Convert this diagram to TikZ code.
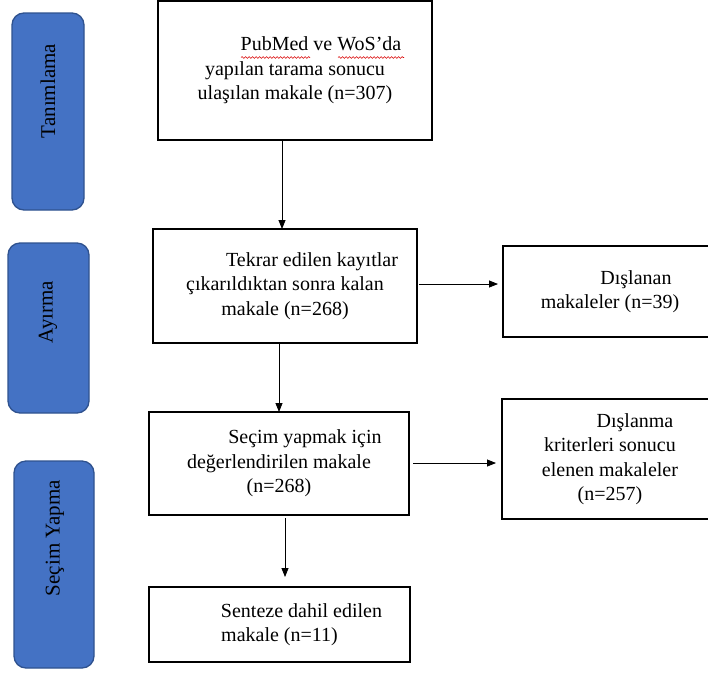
\documentclass[tikz,border=0pt]{standalone}
\usepackage{fontspec}
\setmainfont{Liberation Serif}
\usetikzlibrary{arrows.meta,decorations.pathmorphing}
\definecolor{sideblue}{HTML}{4472C4}
\definecolor{sideedge}{HTML}{2F528F}
\begin{document}
\begin{tikzpicture}[x=1pt,y=-1pt,
  mainbox/.style={draw=black,line width=1.4pt,rectangle,inner sep=0pt,outer sep=0pt,align=center,font=\fontsize{20}{24.5}\selectfont},
  sidebox/.style={draw=sideedge,fill=sideblue,line width=1.3pt,rounded corners=12pt,inner sep=0pt,outer sep=0pt},
  sidelabel/.style={rotate=90,font=\fontsize{21}{25}\selectfont,text=black,inner sep=0pt},
  arr/.style={-{Triangle[length=9pt,width=7pt]},line width=0.8pt},
  spell/.style={draw=red!85!black,line width=0.6pt,decorate,decoration={snake,amplitude=0.9pt,segment length=3.5pt}}]
\clip (0,0) rectangle (708,672);
\fill[white] (0,0) rectangle (708,672);

% side phase boxes
\node[sidebox,minimum width=72pt,minimum height=197pt] (s1) at (48,111.5) {};
\node[sidebox,minimum width=81pt,minimum height=170pt] (s2) at (48.5,328) {};
\node[sidebox,minimum width=80pt,minimum height=207pt] (s3) at (54,564.5) {};
\node[sidelabel] (l1) at (48,91) {Tanımlama};
\node[sidelabel] (l2) at (48,312) {Ayırma};
\node[sidelabel] (l3) at (55,538) {Seçim Yapma};

% main flow boxes
\node[mainbox,minimum width=274pt,minimum height=139pt] (b1) at (295,70.5)
  {\hspace*{52pt}PubMed ve WoS’da\\yapılan tarama sonucu\\ulaşılan makale (n=307)};
\node[mainbox,minimum width=264pt,minimum height=114pt] (b2) at (285,286)
  {\hspace*{54pt}Tekrar edilen kayıtlar\\çıkarıldıktan sonra kalan\\makale (n=268)};
\node[mainbox,minimum width=260pt,minimum height=103pt] (b3) at (279,463.5)
  {\hspace*{52pt}Seçim yapmak için\\değerlendirilen makale\\(n=268)};
\node[mainbox,minimum width=261pt,minimum height=75pt] (b4) at (279.5,624.5)
  {\hspace*{44pt}Senteze dahil edilen\\makale (n=11)};

% excluded boxes
\node[mainbox,minimum width=214pt,minimum height=91pt] (d1) at (610,291.5)
  {\hspace*{52pt}Dışlanan\\makaleler (n=39)};
\node[mainbox,minimum width=216pt,minimum height=120pt] (d2) at (610,459)
  {\hspace*{50pt}Dışlanma\\kriterleri sonucu\\elenen makaleler\\(n=257)};

% spell-check underlines
\draw[spell] (241,57.5) -- (310,57.5);
\draw[spell] (338,57.5) -- (404,57.5);

% connectors
\draw[arr] (b1.south -| 282,0) -- (b2.north -| 282,0);
\draw[arr] (b2.south -| 279,0) -- (b3.north -| 279,0);
\draw[arr,shorten <=3pt,shorten >=10pt] (b3.south -| 285,0) -- (b4.north -| 285,0);
\draw[arr,shorten <=2pt,shorten >=5pt] (b2.east |- 0,284) -- (d1.west |- 0,284);
\draw[arr,shorten <=4pt,shorten >=6pt] (b3.east |- 0,463) -- (d2.west |- 0,463);
\end{tikzpicture}
\end{document}
